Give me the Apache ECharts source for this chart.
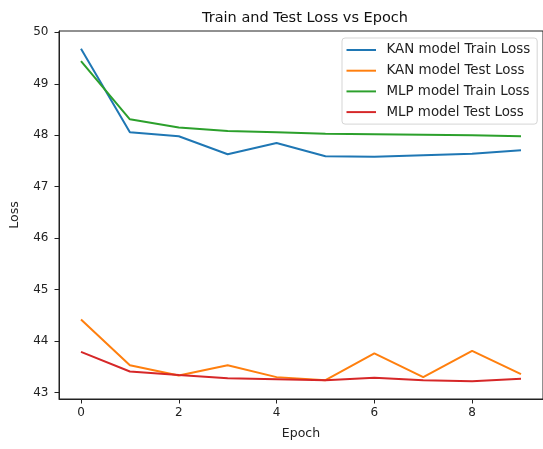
<!DOCTYPE html>
<html>
<head>
<meta charset="utf-8">
<script src="https://cdn.jsdelivr.net/npm/echarts@6/dist/echarts.min.js"></script>
<style>html,body{margin:0;padding:0;background:#fff}#c{width:543px;height:449px}</style>
</head>
<body>
<div id="c"></div>
<script>
const epochs = [0,1,2,3,4,5,6,7,8,9];
const kanTrain = [49.68,48.06,47.98,47.63,47.85,47.59,47.58,47.61,47.64,47.71];
const kanTest  = [44.42,43.53,43.33,43.53,43.30,43.24,43.76,43.30,43.81,43.36];
const mlpTrain = [49.44,48.31,48.15,48.08,48.06,48.03,48.02,48.01,48.00,47.98];
const mlpTest  = [43.79,43.41,43.34,43.28,43.26,43.24,43.29,43.24,43.22,43.27];
const xTicks = [0,2,4,6,8];
const yTicks = [43,44,45,46,47,48,49,50];
const names = ['KAN model Train Loss','KAN model Test Loss','MLP model Train Loss','MLP model Test Loss'];
const colors = ['#1f77b4','#ff7f0e','#2ca02c','#d62728'];
const seriesData = [kanTrain, kanTest, mlpTrain, mlpTest];

const font = 'DejaVu Sans';
const chart = echarts.init(document.getElementById('c'), null, {renderer:'canvas'});
chart.setOption({
  animation:false,
  backgroundColor:'#fff',
  title:{text:'Train and Test Loss vs Epoch', left:300, top:6, textAlign:'center',
    textStyle:{fontFamily:font,fontSize:14.5,fontWeight:'normal',color:'#111'}},
  grid:{left:55,top:31,width:491,height:368,show:true,borderColor:'#222',borderWidth:1,backgroundColor:'transparent'},
  legend:{orient:'vertical', left:342, top:38, padding:[5,7,5,4.5], itemGap:6.7,
    itemWidth:29.5, itemHeight:14, backgroundColor:'#fff', borderColor:'#d5d5d5', borderWidth:1, borderRadius:3,
    data:names.map((n,i)=>({name:n, icon:'path://M0,6L30,6L30,8L0,8Z'})),
    textStyle:{fontFamily:font,fontSize:13.4,lineHeight:14,color:'#222',padding:[0,0,0,5.5]}},
  xAxis:{type:'value', min:-0.45, max:9.45,
    name:'Epoch', nameLocation:'middle', nameGap:28,
    nameTextStyle:{fontFamily:font,fontSize:12.5,color:'#222'},
    splitLine:{show:false},
    axisLine:{show:true,onZero:false,lineStyle:{color:'#222',width:1}},
    axisTick:{show:true,length:4.5,lineStyle:{color:'#222'},customValues:xTicks},
    axisLabel:{fontFamily:font,fontSize:12,color:'#222',margin:8,customValues:xTicks}},
  yAxis:{type:'value', min:42.875, max:50.025,
    name:'Loss', nameLocation:'middle', nameGap:38, nameRotate:90,
    nameTextStyle:{fontFamily:font,fontSize:12.5,color:'#222'},
    splitLine:{show:false},
    axisLine:{show:true,onZero:false,lineStyle:{color:'#222',width:1}},
    axisTick:{show:true,length:4.5,lineStyle:{color:'#222'},customValues:yTicks},
    axisLabel:{fontFamily:font,fontSize:12,color:'#222',margin:10.5,customValues:yTicks}},
  series: seriesData.map((d,i)=>({
    name:names[i], type:'line', showSymbol:false, symbol:'none',
    data: epochs.map((e,j)=>[e,d[j]]),
    lineStyle:{color:colors[i],width:2}, itemStyle:{color:colors[i]}, z:2+i
  }))
});
</script>
</body>
</html>
